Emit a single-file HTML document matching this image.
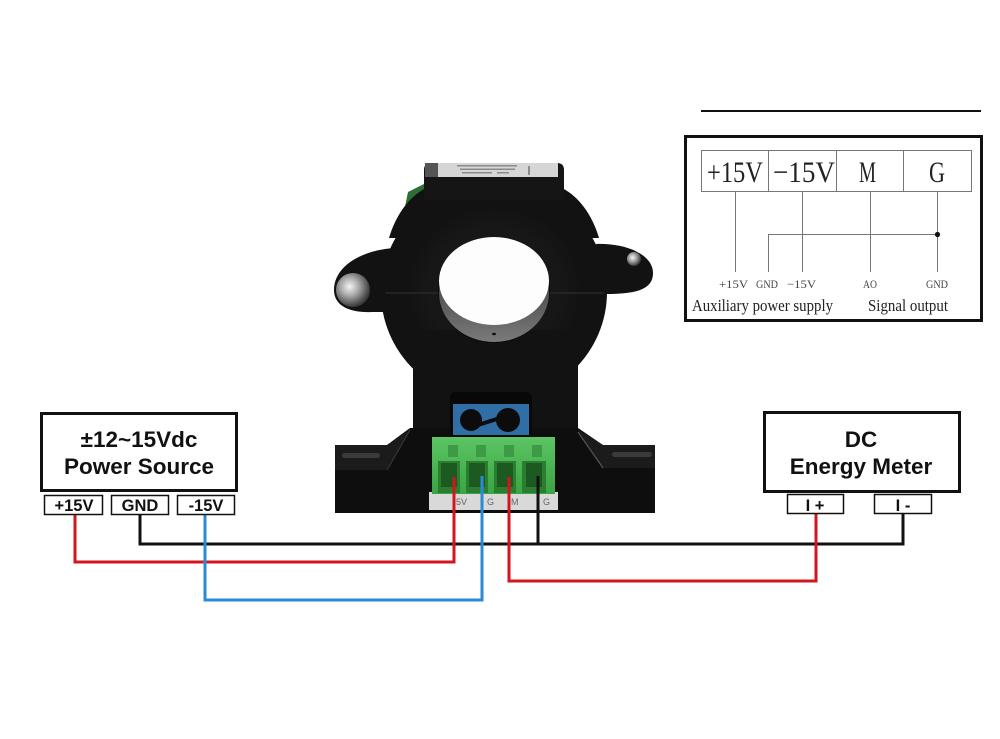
<!DOCTYPE html>
<html>
<head>
<meta charset="utf-8">
<style>
  html,body{margin:0;padding:0;background:#fff;}
  svg{display:block;}
  .sans{font-family:"Liberation Sans",Arial,sans-serif;font-weight:bold;fill:#111;}
  .serif{font-family:"Liberation Serif","Times New Roman",serif;fill:#222;}
</style>
</head>
<body>
<svg width="1000" height="739" viewBox="0 0 1000 739" xmlns="http://www.w3.org/2000/svg">
  <defs>
    <radialGradient id="screw" cx="0.4" cy="0.4" r="0.6">
      <stop offset="0" stop-color="#f4f4f4"/>
      <stop offset="0.45" stop-color="#a9a9a9"/>
      <stop offset="1" stop-color="#3a3a3a"/>
    </radialGradient>
    <radialGradient id="ring" cx="0.5" cy="0.5" r="0.5">
      <stop offset="0.75" stop-color="#171717"/>
      <stop offset="1" stop-color="#121212"/>
    </radialGradient>
    <linearGradient id="inner" x1="0" y1="0" x2="0" y2="1">
      <stop offset="0" stop-color="#2a2a2a"/>
      <stop offset="1" stop-color="#7a7a7a"/>
    </linearGradient>
    <linearGradient id="green" x1="0" y1="0" x2="0" y2="1">
      <stop offset="0" stop-color="#5cc463"/>
      <stop offset="1" stop-color="#3aa544"/>
    </linearGradient>
  </defs>

  <rect x="0" y="0" width="1000" height="739" fill="#fff"/>

  <!-- ===== Top-right schematic ===== -->
  <line x1="701" y1="111" x2="981" y2="111" stroke="#111" stroke-width="2"/>
  <rect x="685.5" y="136.5" width="296" height="184" fill="#fff" stroke="#111" stroke-width="3"/>
  <rect x="701.5" y="150.5" width="270" height="41" fill="#fff" stroke="#777" stroke-width="1"/>
  <line x1="768.5" y1="150" x2="768.5" y2="192" stroke="#777" stroke-width="1"/>
  <line x1="836.5" y1="150" x2="836.5" y2="192" stroke="#777" stroke-width="1"/>
  <line x1="903.5" y1="150" x2="903.5" y2="192" stroke="#777" stroke-width="1"/>
  <text class="serif" x="707" y="182" font-size="30" textLength="56" lengthAdjust="spacingAndGlyphs">+15V</text>
  <text class="serif" x="773" y="182" font-size="30" textLength="62" lengthAdjust="spacingAndGlyphs">−15V</text>
  <text class="serif" x="859" y="182" font-size="30" textLength="17" lengthAdjust="spacingAndGlyphs">M</text>
  <text class="serif" x="929" y="182" font-size="30" textLength="16" lengthAdjust="spacingAndGlyphs">G</text>

  <g stroke="#777" stroke-width="1">
    <line x1="735.5" y1="192" x2="735.5" y2="272"/>
    <line x1="802.5" y1="192" x2="802.5" y2="272"/>
    <line x1="870.5" y1="192" x2="870.5" y2="272"/>
    <line x1="937.5" y1="192" x2="937.5" y2="272"/>
    <line x1="768.5" y1="234.5" x2="768.5" y2="272"/>
    <line x1="768" y1="234.5" x2="937.5" y2="234.5"/>
  </g>
  <circle cx="937.5" cy="234.5" r="2.6" fill="#111"/>

  <g class="serif" font-size="12">
    <text x="719" y="288" textLength="29" lengthAdjust="spacingAndGlyphs" style="fill:#444">+15V</text>
    <text x="756" y="288" textLength="22" lengthAdjust="spacingAndGlyphs" style="fill:#444">GND</text>
    <text x="787" y="288" textLength="29" lengthAdjust="spacingAndGlyphs" style="fill:#444">−15V</text>
    <text x="863" y="288" textLength="14" lengthAdjust="spacingAndGlyphs" style="fill:#444">AO</text>
    <text x="926" y="288" textLength="22" lengthAdjust="spacingAndGlyphs" style="fill:#444">GND</text>
  </g>
  <text class="serif" x="692" y="311" font-size="17" textLength="141" lengthAdjust="spacingAndGlyphs">Auxiliary power supply</text>
  <text class="serif" x="868" y="311" font-size="17" textLength="80" lengthAdjust="spacingAndGlyphs">Signal output</text>

  <!-- ===== Sensor ===== -->
  <!-- green side sliver (behind body) -->
  <path d="M408,192 L424,184 L424,222 L400,232 Z" fill="#2b6f31"/>
  <!-- left ear -->
  <path d="M395,248 C362,250 334,266 334,290 C334,306 350,313 372,312 L400,312 Z" fill="#121212"/>
  <!-- right ear -->
  <path d="M596,244 C625,243 653,254 653,273 C653,290 635,294 606,294 Z" fill="#121212"/>
  <!-- main round body -->
  <ellipse cx="494" cy="292" rx="113" ry="110" fill="#121212"/>
  <!-- curved shoulders -->
  <path d="M426,188 C410,196 396,214 389,238 L480,238 L480,188 Z" fill="#121212"/>
  <path d="M562,188 C578,196 592,214 599,238 L508,238 L508,188 Z" fill="#121212"/>
  <!-- top block -->
  <path d="M424,200 L424,170 Q424,163 431,163 L557,163 Q564,163 564,170 L564,200 Z" fill="#151515"/>
  <!-- label -->
  <rect x="438" y="163" width="120" height="14" fill="#d6d6d6"/>
  <rect x="425" y="163" width="13" height="14" fill="#555"/>
  <g fill="#8a8a8a">
    <rect x="457" y="165" width="60" height="1.5"/>
    <rect x="460" y="168.5" width="55" height="1.5"/>
    <rect x="462" y="172" width="30" height="1.5"/>
    <rect x="497" y="172" width="12" height="1.5"/>
    <rect x="528" y="166" width="2" height="9"/>
  </g>
  <!-- ring around hole -->
  <ellipse cx="494" cy="290" rx="88" ry="84" fill="url(#ring)"/>
  <!-- split line -->
  <line x1="385" y1="293" x2="604" y2="293" stroke="#2c2c2c" stroke-width="1.2"/>
  <!-- stem -->
  <rect x="413" y="330" width="165" height="120" fill="#121212"/>
  <!-- feet -->
  <path d="M410,428 L387,445 L335,445 L335,513 L655,513 L655,445 L603,445 L578,428 Z" fill="#0e0e0e"/>
  <path d="M410,430 L387,470 L335,470 L335,445 L387,445 Z" fill="#1b1b1b"/>
  <path d="M578,430 L603,468 L655,468 L655,445 L603,445 Z" fill="#1b1b1b"/>
  <line x1="410" y1="430" x2="387" y2="470" stroke="#3a3a3a" stroke-width="1"/>
  <line x1="578" y1="432" x2="603" y2="468" stroke="#555" stroke-width="1.2"/>
  <rect x="342" y="453" width="38" height="5" rx="2.5" fill="#3a3a3a"/>
  <rect x="612" y="452" width="40" height="5" rx="2.5" fill="#3a3a3a"/>
  <!-- hole -->
  <ellipse cx="494" cy="290" rx="56" ry="53" fill="#0a0a0a"/>
  <ellipse cx="494" cy="293" rx="55" ry="49" fill="url(#inner)"/>
  <ellipse cx="494" cy="281" rx="55" ry="44" fill="#fdfdfd"/>
  <ellipse cx="494" cy="334" rx="2" ry="1.2" fill="#111"/>
  <!-- screws -->
  <circle cx="353" cy="290" r="17" fill="url(#screw)"/>
  <circle cx="634" cy="259" r="7" fill="url(#screw)"/>
  <!-- pot recess -->
  <rect x="450" y="392" width="82" height="46" rx="5" fill="#080808"/>
  <rect x="453" y="404" width="76" height="31" fill="#2f6fa6"/>
  <circle cx="471" cy="420" r="11" fill="#0c0c0c"/>
  <circle cx="508" cy="420" r="12" fill="#0c0c0c"/>
  <path d="M478,425 L500,418" stroke="#0c0c0c" stroke-width="4"/>
  <!-- grey strip -->
  <rect x="429" y="492" width="129" height="18" fill="#d9d9d9"/>
  <g font-family="Liberation Sans, Arial, sans-serif" font-size="9" fill="#666">
    <text x="456" y="505">5V</text>
    <text x="487" y="505">G</text>
    <text x="511" y="505">M</text>
    <text x="543" y="505">G</text>
  </g>
  <!-- green connector -->
  <rect x="432" y="437" width="123" height="57" fill="url(#green)"/>
  <g fill="#2b7d30">
    <rect x="438" y="461" width="22" height="32"/>
    <rect x="466" y="461" width="22" height="32"/>
    <rect x="494" y="461" width="22" height="32"/>
    <rect x="522" y="461" width="24" height="32"/>
  </g>
  <g fill="#1d5a21">
    <rect x="441" y="463" width="16" height="24"/>
    <rect x="469" y="463" width="16" height="24"/>
    <rect x="497" y="463" width="16" height="24"/>
    <rect x="526" y="463" width="16" height="24"/>
  </g>
  <g fill="#3e9a44">
    <rect x="448" y="445" width="10" height="12"/>
    <rect x="476" y="445" width="10" height="12"/>
    <rect x="504" y="445" width="10" height="12"/>
    <rect x="532" y="445" width="10" height="12"/>
  </g>

  <!-- ===== Wires ===== -->
  <g fill="none" stroke-width="3" stroke-linejoin="miter">
    <polyline points="140,515 140,544 903,544 903,514" stroke="#111"/>
    <polyline points="538,476 538,544" stroke="#111"/>
    <polyline points="75,515 75,562 454,562 454,477" stroke="#d3161e"/>
    <polyline points="509,477 509,581 816,581 816,514" stroke="#d3161e"/>
    <polyline points="205,515 205,600 482,600 482,476" stroke="#2a8bd5"/>
  </g>

  <!-- ===== Power Source ===== -->
  <rect x="41.5" y="413.5" width="195" height="77" fill="#fff" stroke="#111" stroke-width="3"/>
  <text class="sans" x="139" y="447" font-size="22.5" text-anchor="middle">±12~15Vdc</text>
  <text class="sans" x="139" y="474" font-size="22.5" text-anchor="middle">Power Source</text>
  <rect x="44.5" y="495.5" width="58" height="19" fill="#fff" stroke="#111" stroke-width="1.5"/>
  <rect x="111.5" y="495.5" width="57" height="19" fill="#fff" stroke="#111" stroke-width="1.5"/>
  <rect x="177.5" y="495.5" width="57" height="19" fill="#fff" stroke="#111" stroke-width="1.5"/>
  <text class="sans" x="74" y="511" font-size="16.5" text-anchor="middle">+15V</text>
  <text class="sans" x="140" y="511" font-size="16.5" text-anchor="middle">GND</text>
  <text class="sans" x="206" y="511" font-size="16.5" text-anchor="middle">-15V</text>

  <!-- ===== DC Energy Meter ===== -->
  <rect x="764.5" y="412.5" width="195" height="79" fill="#fff" stroke="#111" stroke-width="3"/>
  <text class="sans" x="861" y="447" font-size="22.5" text-anchor="middle">DC</text>
  <text class="sans" x="861" y="474" font-size="22.5" text-anchor="middle">Energy Meter</text>
  <rect x="787.5" y="494.5" width="56" height="19" fill="#fff" stroke="#111" stroke-width="1.5"/>
  <rect x="874.5" y="494.5" width="57" height="19" fill="#fff" stroke="#111" stroke-width="1.5"/>
  <text class="sans" x="815" y="511" font-size="16.5" text-anchor="middle">I +</text>
  <text class="sans" x="903" y="511" font-size="16.5" text-anchor="middle">I -</text>
</svg>
</body>
</html>
